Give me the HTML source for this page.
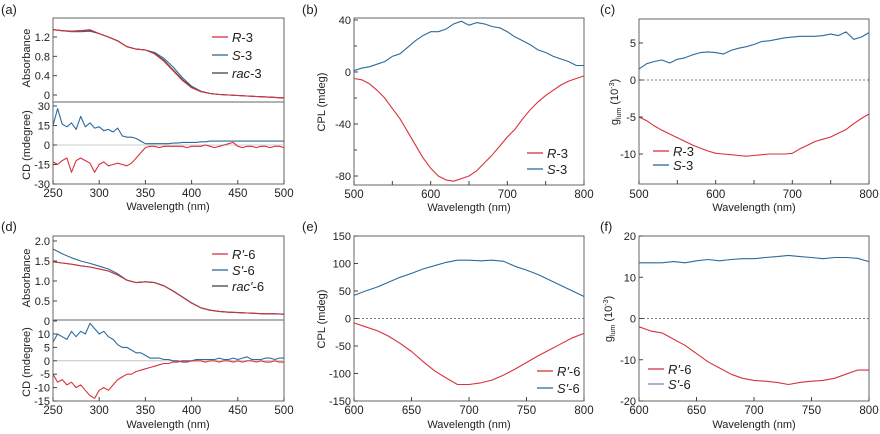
<!DOCTYPE html>
<html><head><meta charset="utf-8"><style>
html,body{margin:0;padding:0;background:#fff;width:880px;height:434px;overflow:hidden}
svg{font-family:"Liberation Sans",sans-serif;}
</style></head><body>
<svg id="fig" width="880" height="434" viewBox="0 0 880 434" xmlns="http://www.w3.org/2000/svg"></svg>
<script>
// ---- data (a) ----
const aAbsR=[1.35,1.33,1.32,1.33,1.35,1.27,1.20,1.12,1.00,0.95,0.93,0.85,0.70,0.50,0.30,0.15,0.07,0.03,0.01,0,-0.01,-0.02,-0.03,-0.04,-0.05,-0.06];
const aAbsS=[1.35,1.33,1.31,1.31,1.32,1.27,1.20,1.12,1.00,0.95,0.93,0.88,0.76,0.58,0.36,0.18,0.08,0.03,0.01,0,-0.01,-0.02,-0.03,-0.04,-0.05,-0.06];
const aAbsRac=[1.35,1.33,1.32,1.33,1.34,1.27,1.20,1.12,1.00,0.95,0.93,0.86,0.72,0.52,0.32,0.16,0.07,0.03,0.01,0,-0.01,-0.02,-0.03,-0.04,-0.05,-0.06];
const aCdS=[15,28,16,14,17,12,22,14,17,13,14,11,12,10,13,7,6,6,5,3,1,1,1,1,1,1,1.5,1.5,2,2,2,2,2.5,2.5,3,3,3,3,3,3,3,3,3,3,3,3,3,3,3,3,3];
const aCdR=[-13,-15,-12,-10,-21,-12,-10,-12,-14,-21,-15,-13,-16,-15,-14,-15,-16,-14,-10,-6,-2,-1,-1,-2,-1,-1,-1,-1,-1,-2,-1,-1,-1,0,-1,-2,-1,0,1,2,-1,-2,-1,-1,-2,-1,-1,-2,-1,-1,-2];
const aCdRac=[0,0,0,0,0,0,0,0,0,0,0,0,0,0,0,0,0,0,0,0,0,0,0,0,0,0];
// ---- data (b) ----
const bS=[1,3,4,6,8,12,14,19,24,28,31,31,33,37,39,36,38,37,35,34,31,27,24,21,17,15,12,10,8,5,5];
const bR=[-5,-6,-9,-14,-20,-28,-36,-46,-56,-66,-74,-80,-83,-84,-82,-80,-76,-70,-64,-57,-50,-44,-36,-29,-23,-18,-14,-10,-7,-5,-3];
// ---- data (c) ----
const cS=[1.5,2.2,2.5,2.7,2.3,2.8,3.0,3.4,3.7,3.8,3.7,3.5,4.0,4.3,4.5,4.8,5.2,5.3,5.5,5.7,5.8,5.9,5.9,5.9,6.0,6.2,6.0,6.5,5.5,5.8,6.4];
const cR=[-5,-5.5,-6.2,-6.8,-7.3,-7.8,-8.3,-8.8,-9.2,-9.6,-9.9,-10,-10.1,-10.2,-10.3,-10.2,-10.1,-10,-10,-10,-9.9,-9.3,-8.8,-8.3,-8.0,-7.7,-7.2,-6.7,-5.9,-5.2,-4.6];
// ---- data (d) ----
const dAbsR=[1.48,1.45,1.42,1.38,1.35,1.30,1.25,1.15,1.02,0.96,0.98,0.96,0.88,0.75,0.60,0.45,0.33,0.27,0.24,0.22,0.21,0.20,0.19,0.18,0.18,0.17];
const dAbsS=[1.80,1.68,1.58,1.50,1.44,1.37,1.30,1.18,1.02,0.96,0.98,0.96,0.88,0.75,0.60,0.45,0.33,0.27,0.24,0.22,0.21,0.20,0.19,0.18,0.18,0.17];
const dCdS=[7,10,9,8,11,9,11,10,14,12,10,11,9,8,6,5,5,4,3,3,2,1,1,1,0.5,0.5,0,0,-0.5,-0.5,0,0.5,0.5,0.5,0.5,0.5,1,0.5,0.5,1,0.5,1,1.5,0.5,0.5,0.5,1,1,0.5,1,1];
const dCdR=[-5,-8,-7,-9,-8,-10,-9,-11,-13,-14,-11,-10,-11,-9,-7,-6,-5,-5,-4,-3.5,-3,-2.5,-2,-1.5,-1,-1,-0.5,-0.5,0,0,0,0,0,-0.5,0,0,-0.5,0,0,-0.5,0,-0.5,0,0,-0.5,0,-0.5,-0.5,0,-0.5,-0.5];
const dCdRac=[0,0,0,0,0,0,0,0,0,0,0,0,0,0,0,0,0,0,0,0,0,0,0,0,0,0];
// ---- data (e) ----
const eS=[42,50,57,66,75,82,90,96,102,106,106,105,106,104,95,88,80,70,60,50,40];
const eR=[-8,-15,-22,-32,-45,-60,-78,-95,-108,-120,-120,-117,-112,-103,-92,-80,-68,-57,-46,-35,-27];
// ---- data (f) ----
const fS=[13.5,13.5,13.5,13.8,13.5,14,14.3,14,14.3,14.5,14.5,14.8,15,15.3,15,14.8,14.5,14.8,14.8,14.6,13.8];
const fR=[-2,-3,-3.5,-5,-6.5,-8.5,-10.5,-12,-13.5,-14.5,-15,-15.2,-15.5,-16,-15.5,-15.2,-15,-14.5,-13.5,-12.5,-12.5];

const RED="#d8323c",BLUE="#2d6a9c",DARK="#444",GRAY="#bbb";
const svg=document.getElementById('fig');
const NS="http://www.w3.org/2000/svg";
function el(tag,attrs,parent){const e=document.createElementNS(NS,tag);for(const k in attrs)e.setAttribute(k,attrs[k]);(parent||svg).appendChild(e);return e;}
function txt(s,x,y,opt,name){const t=el('text',Object.assign({x:x,y:y,'font-size':11,fill:'#222'},opt||{}));t.innerHTML=s;


return t;}
function lin(d0,d1,r0,r1){return v=>r0+(v-d0)*(r1-r0)/(d1-d0);}
function series(arr,x0,x1,sx,sy,color,name,w){
  const n=arr.length;let d='';
  arr.forEach((v,i)=>{const xv=x0+i*(x1-x0)/(n-1);d+=(i?'L':'M')+sx(xv).toFixed(1)+','+sy(v).toFixed(1);});
  const p=el('path',{d:d,fill:'none',stroke:color,'stroke-width':w||1.1,'stroke-linejoin':'round'});
  
  
}
function frame(x0,y0,x1,y1,name){const r=el('rect',{x:x0,y:y0,width:x1-x0,height:y1-y0,fill:'none',stroke:'#666','stroke-width':1});

}
function yTicks(vals,sy,xL,fmt,name){vals.forEach(v=>{el('line',{x1:xL,x2:xL+4,y1:sy(v),y2:sy(v),stroke:'#444'});
txt(fmt?fmt(v):String(v),xL-3,sy(v)+4,{'text-anchor':'end'},name);});}
function xTicks(vals,sx,yB,yLab,name){vals.forEach((v,i)=>{el('line',{x1:sx(v),x2:sx(v),y1:yB,y2:yB-4,stroke:'#444'});
txt(String(v),sx(v),yLab,{'text-anchor':'middle','font-size':11.5},name);});}
function ylabel(s,x,y,name){const t=txt(s,x,y,{'text-anchor':'middle',transform:'rotate(-90 '+x+' '+y+')','font-size':11},name);}
function dash(x0,x1,y){const l=el('line',{x1:x0,x2:x1,y1:y,y2:y,stroke:'#555','stroke-dasharray':'2,2','stroke-width':0.8});

}
function legend(items,lx,ty,dy,name){items.forEach((it,i)=>{const y=ty+i*dy;
const l=el('line',{x1:lx,x2:lx+16,y1:y,y2:y,stroke:it[1],'stroke-width':1.3});


txt(it[0],lx+20,y+5,{'font-size':13},name+'-entry');});}
const gl='g<tspan font-size="7" dy="3">lum</tspan><tspan dy="-3"> (10</tspan><tspan font-size="7" dy="-4">-3</tspan><tspan dy="4">)</tspan>';

// ===== Panel (a) =====
txt('(a)',1,14,{'font-size':13},'panel-label-a');
{const X0=53,X1=284;const sx=lin(250,500,X0,X1);
 const sa=lin(0,1.2,95,37);
 frame(X0,18,X1,102,'a-abs-frame');
 series(aAbsS,250,500,sx,sa,BLUE,'a-abs-s3');series(aAbsRac,250,500,sx,sa,DARK,'a-abs-rac3');series(aAbsR,250,500,sx,sa,RED,'a-abs-r3');
 yTicks([0,0.4,0.8,1.2],sa,X0,v=>v?v.toFixed(1):'0','a-abs-ytick');
 ylabel('Absorbance',30,58,'a-abs-ylabel');
 legend([['<tspan font-style="italic">R</tspan>-3',RED],['<tspan font-style="italic">S</tspan>-3',BLUE],['<tspan font-style="italic">rac</tspan>-3',DARK]],212,37,18,'a-legend');
 const sc=lin(-30,30,184,106);
 frame(X0,102,X1,184,'a-cd-frame');
 series(aCdRac,250,500,sx,sc,GRAY,'a-cd-rac3',0.8);series(aCdS,250,500,sx,sc,BLUE,'a-cd-s3');series(aCdR,250,500,sx,sc,RED,'a-cd-r3');
 yTicks([-30,-15,0,15,30],sc,X0,null,'a-cd-ytick');
 ylabel('CD (mdegree)',30,145,'a-cd-ylabel');
 xTicks([250,300,350,400,450,500],sx,184,197,'a-xtick');
 txt('Wavelength (nm)',168,210,{'text-anchor':'middle'},'a-xlabel');}

// ===== Panel (b) =====
txt('(b)',302,14,{'font-size':13},'panel-label-b');
{const X0=354,X1=584;const sx=lin(500,800,X0,X1);const sy=lin(-80,40,176,20);
 frame(X0,18,X1,185,'b-frame');
 series(bS,500,800,sx,sy,BLUE,'b-s3');series(bR,500,800,sx,sy,RED,'b-r3');
 yTicks([-80,-40,0,40],sy,X0,null,'b-ytick');
 [-60,-20,20].forEach(v=>el('line',{x1:X0,x2:X0+3,y1:sy(v),y2:sy(v),stroke:'#444'}));
 xTicks([500,600,700,800],sx,185,198,'b-xtick');
 [550,650,750].forEach(v=>el('line',{x1:sx(v),x2:sx(v),y1:185,y2:181,stroke:'#444'}));
 ylabel('CPL (mdeg)',325,102,'b-ylabel');
 legend([['<tspan font-style="italic">R</tspan>-3',RED],['<tspan font-style="italic">S</tspan>-3',BLUE]],527,153,16,'b-legend');
 txt('Wavelength (nm)',469,211,{'text-anchor':'middle'},'b-xlabel');}

// ===== Panel (c) =====
txt('(c)',600,14,{'font-size':13},'panel-label-c');
{const X0=639,X1=869;const sx=lin(500,800,X0,X1);const sy=lin(-10,5,154,43);
 frame(X0,19,X1,184,'c-frame');dash(X0,X1,sy(0));
 series(cS,500,800,sx,sy,BLUE,'c-s3');series(cR,500,800,sx,sy,RED,'c-r3');
 yTicks([-10,-5,0,5],sy,X0,null,'c-ytick');
 xTicks([500,600,700,800],sx,184,198,'c-xtick');
 [550,650,750].forEach(v=>el('line',{x1:sx(v),x2:sx(v),y1:184,y2:180,stroke:'#444'}));
 ylabel(gl,618,102,'c-ylabel');
 legend([['<tspan font-style="italic">R</tspan>-3',RED],['<tspan font-style="italic">S</tspan>-3',BLUE]],653,151,14,'c-legend');
 txt('Wavelength (nm)',754,211,{'text-anchor':'middle'},'c-xlabel');}

// ===== Panel (d) =====
txt('(d)',1,231,{'font-size':13},'panel-label-d');
{const X0=53,X1=284;const sx=lin(250,500,X0,X1);
 const sa=lin(0,2.0,321,241);
 frame(X0,236,X1,320,'d-abs-frame');
 series(dAbsS,250,500,sx,sa,BLUE,'d-abs-s6');series(dAbsR,250,500,sx,sa,DARK,'d-abs-rac6');series(dAbsR,250,500,sx,sa,RED,'d-abs-r6',0.9);
 yTicks([0,0.5,1.0,1.5,2.0],sa,X0,v=>v?v.toFixed(1):'0','d-abs-ytick');
 ylabel('Absorbance',30,278,'d-abs-ylabel');
 legend([['<tspan font-style="italic">R\'</tspan>-6',RED],['<tspan font-style="italic">S\'</tspan>-6',BLUE],['<tspan font-style="italic">rac\'</tspan>-6',DARK]],212,254,16,'d-legend');
 const sc=lin(-15,10,401,334);
 frame(X0,320,X1,401,'d-cd-frame');
 series(dCdRac,250,500,sx,sc,GRAY,'d-cd-rac6',0.8);series(dCdS,250,500,sx,sc,BLUE,'d-cd-s6');series(dCdR,250,500,sx,sc,RED,'d-cd-r6');
 yTicks([-15,-10,-5,0,5,10],sc,X0,null,'d-cd-ytick');
 ylabel('CD (mdegree)',30,362,'d-cd-ylabel');
 xTicks([250,300,350,400,450,500],sx,401,414,'d-xtick');
 txt('Wavelength (nm)',168,428,{'text-anchor':'middle'},'d-xlabel');}

// ===== Panel (e) =====
txt('(e)',302,231,{'font-size':13},'panel-label-e');
{const X0=354,X1=584;const sx=lin(600,800,X0,X1);const sy=lin(-150,150,401,236);
 frame(X0,236,X1,401,'e-frame');dash(X0,X1,sy(0));
 series(eS,600,800,sx,sy,BLUE,'e-s6');series(eR,600,800,sx,sy,RED,'e-r6');
 yTicks([-150,-100,-50,0,50,100,150],sy,X0,null,'e-ytick');
 xTicks([600,650,700,750,800],sx,401,414,'e-xtick');
 ylabel('CPL (mdeg)',325,319,'e-ylabel');
 legend([['<tspan font-style="italic">R\'</tspan>-6',RED],['<tspan font-style="italic">S\'</tspan>-6',BLUE]],537,371,17,'e-legend');
 txt('Wavelength (nm)',469,428,{'text-anchor':'middle'},'e-xlabel');}

// ===== Panel (f) =====
txt('(f)',600,231,{'font-size':13},'panel-label-f');
{const X0=639,X1=869;const sx=lin(600,800,X0,X1);const sy=lin(-20,20,401,236);
 frame(X0,236,X1,401,'f-frame');dash(X0,X1,sy(0));
 series(fS,600,800,sx,sy,BLUE,'f-s6');series(fR,600,800,sx,sy,RED,'f-r6');
 yTicks([-20,-10,0,10,20],sy,X0,null,'f-ytick');
 xTicks([600,650,700,750,800],sx,401,414,'f-xtick');
 ylabel(gl,612,319,'f-ylabel');
 legend([['<tspan font-style="italic">R\'</tspan>-6',RED],['<tspan font-style="italic">S\'</tspan>-6',"#8a7fc0"]],648,369,15,'f-legend');
 txt('Wavelength (nm)',754,428,{'text-anchor':'middle'},'f-xlabel');}
</script>
</body></html>
